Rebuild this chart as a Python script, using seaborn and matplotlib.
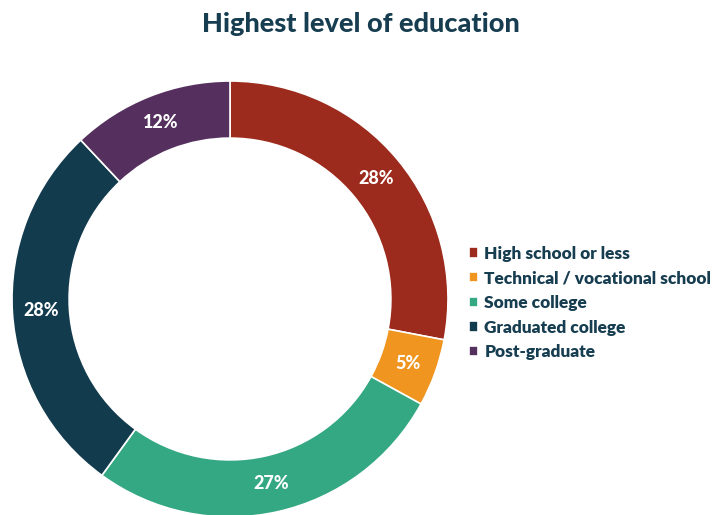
import matplotlib
matplotlib.use("Agg")
import matplotlib.pyplot as plt
import seaborn as sns
import numpy as np

categories = ["High school or less", "Technical / vocational school", "Some college",
              "Graduated college", "Post-graduate"]
values = [28, 5, 27, 28, 12]
labels = ["28%", "5%", "27%", "28%", "12%"]
colors = ["#9C2B1D", "#F0951F", "#34A882", "#133B4E", "#55305F"]

sns.set_theme(style="white")
plt.rcParams['font.family'] = ['Lato', 'DejaVu Sans']
navy = "#173D50"

fig = plt.figure(figsize=(7.18, 5.15), dpi=100)
ax = fig.add_axes([12/718, (216-218)/515, 436/718, 436/515])
wedges, _ = ax.pie(values, colors=colors, startangle=90, counterclock=False, radius=1,
                   wedgeprops=dict(width=0.262, edgecolor="white", linewidth=1.2))
cum = np.cumsum([0] + values[:-1])
for v, c, lab in zip(values, cum, labels):
    ang = np.deg2rad(90 - (c + v / 2) / sum(values) * 360)
    r = 0.869
    ax.text(r * np.cos(ang), r * np.sin(ang), lab, ha="center", va="center",
            color="white", fontsize=13, fontweight="black")
ax.set_xlim(-1, 1)
ax.set_ylim(-1, 1)
ax.set_aspect("equal")
ax.axis("off")

fig.text(361/718, 1 - 24/515, "Highest level of education", ha="center", va="center",
         fontsize=19.5, fontweight="black", color=navy)

leg = fig.legend(wedges, categories, loc="center left", bbox_to_anchor=(469/718, 1 - 303/515),
                 frameon=False, borderpad=0, borderaxespad=0,
                 handlelength=0.55, handleheight=0.55, handletextpad=0.35,
                 labelspacing=0.5, fontsize=12.4, labelcolor=navy)
for t in leg.get_texts():
    t.set_fontweight("heavy")

fig.savefig("out.png", dpi=100)
